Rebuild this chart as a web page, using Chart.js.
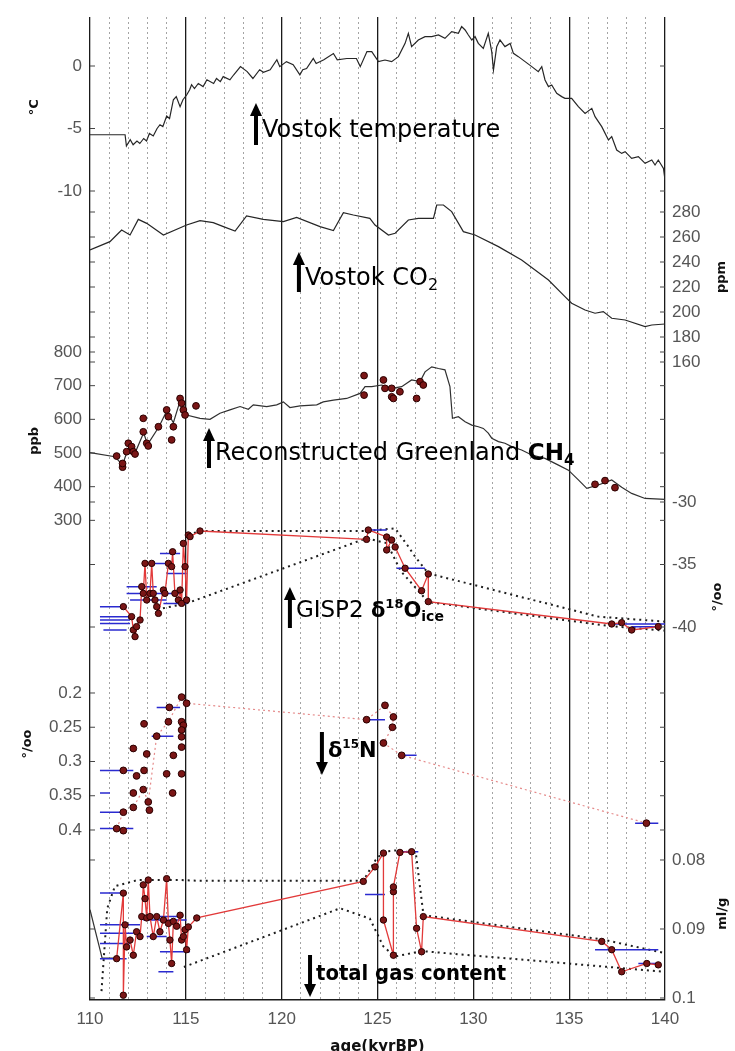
<!DOCTYPE html>
<html><head><meta charset="utf-8">
<script src="https://cdn.jsdelivr.net/npm/chart.js@4/dist/chart.umd.min.js"></script>
<style>html,body{margin:0;padding:0;background:#fff}canvas{display:block}</style>
</head><body>
<canvas id="c" width="735" height="1051"></canvas>
<script>
// ---------------- DATA ----------------
const ageTicks = [110,115,120,125,130,135,140];

const tempTicks = [0,-5,-10];
const co2Ticks  = [280,260,240,220,200,180,160];
const ch4Ticks  = [800,700,600,500,400,300];
const d18Ticks  = [-30,-35,-40];
const d15Ticks  = [0.2,0.25,0.3,0.35,0.4];
const gasTicks  = [0.08,0.09,0.1];

// Vostok temperature (deg C)
const tempAge = [110.0,111.83,111.9,112.1,112.25,112.45,112.6,112.8,112.95,113.1,113.3,113.5,113.65,113.8,114.0,114.15,114.35,114.5,114.7,114.85,115.05,115.2,115.3,115.45,115.65,115.9,116.1,116.45,116.6,116.8,116.95,117.3,117.5,117.85,118.2,118.5,118.85,119.05,119.4,119.75,119.9,120.25,120.6,120.95,121.1,121.3,121.65,121.8,122.2,122.7,122.9,123.4,123.9,124.1,124.45,124.7,125.05,125.39,125.74,126.09,126.44,126.61,126.78,127.13,127.48,127.83,128.18,128.52,128.87,129.22,129.39,129.57,129.74,129.92,130.09,130.26,130.52,130.78,130.96,131.05,131.22,131.39,131.65,131.92,132.09,132.35,132.7,133.05,133.39,133.57,133.74,133.92,134.09,134.35,134.61,134.78,135.13,135.48,135.83,136.18,136.35,136.7,137.05,137.22,137.48,137.74,137.92,138.26,138.61,138.96,139.31,139.48,139.65,139.92,140.0];
const tempVal = [-5.5,-5.5,-6.4,-5.9,-6.3,-6.0,-6.2,-5.8,-6.0,-5.4,-5.6,-5.0,-4.7,-4.85,-4.0,-4.2,-2.7,-2.45,-3.25,-2.7,-2.3,-1.9,-1.5,-1.8,-1.4,-1.65,-1.1,-1.4,-1.0,-1.25,-0.85,-1.1,-0.7,-0.05,-0.45,-1.0,-0.3,-0.5,-0.3,0.5,-0.05,0.35,0.1,-0.7,-0.3,-0.2,0.6,0.2,0.5,1.0,0.5,0.6,0.6,-0.05,1.15,1.15,0.35,0.48,0.35,0.75,1.81,2.61,1.55,2.08,2.35,2.35,2.48,2.21,2.75,2.61,3.15,2.88,2.48,2.08,2.35,1.81,1.41,2.61,1.15,-0.32,1.55,2.08,1.55,1.81,1.01,0.75,0.35,-0.05,-0.45,-0.05,-1.12,-1.65,-1.52,-2.19,-2.45,-2.59,-2.59,-3.25,-3.79,-3.39,-4.05,-4.85,-5.92,-5.65,-6.72,-6.99,-6.85,-7.39,-7.25,-7.79,-7.52,-7.92,-7.52,-8.19,-9.12];

// Vostok CO2 (ppm)
const co2Age = [110.0,111.04,111.39,111.65,112.09,112.52,112.96,113.83,115.04,115.74,116.43,116.96,117.57,118.17,119.04,120.09,120.78,122.0,122.7,123.22,123.74,124.6,124.87,125.57,125.92,126.61,127.13,127.92,128.09,128.44,128.87,129.48,130.09,131.31,132.52,133.92,134.78,135.13,135.83,136.35,136.78,137.22,137.92,138.96,139.31,140.0];
const co2Val = [249.6,256.3,261.6,265.6,261.6,274.1,270.9,261.6,269.6,273.1,271.5,268.3,264.8,276.8,274.1,272.3,275.7,268.3,265.1,279.5,277.6,274.9,269.6,261.6,263.0,273.6,274.9,274.9,285.6,285.6,280.3,264.3,261.6,252.3,241.6,225.6,212.3,207.0,201.6,199.0,200.3,195.0,193.6,188.3,189.6,190.4];

// Reconstructed Greenland CH4 (ppb)
const ch4Age = [110.0,111.3,111.7,112.0,112.35,112.8,113.0,113.6,114.0,114.35,114.7,115.04,115.74,116.26,116.78,117.3,117.83,118.26,118.52,119.22,119.74,120.09,120.43,120.96,121.83,122.17,122.7,123.39,124.09,124.35,124.7,125.22,125.74,126.26,126.78,127.22,127.48,127.83,128.18,128.52,128.78,128.91,129.22,129.57,129.92,130.26,130.52,130.78,130.96,131.31,131.65,132.0,132.52,133.05,133.74,134.44,134.96,135.48,135.92,136.52,137.22,137.74,138.26,138.96,140.0];
const ch4Val = [501,489,465,515,500,560,525,578,625,590,655,613,603,600,618,628,638,630,643,638,643,652,635,640,643,652,657,662,677,697,697,702,692,697,717,712,741,756,751,747,697,603,608,593,583,578,573,559,544,534,529,519,509,494,484,464,449,420,395,405,420,398,380,365,362];
const ch4DotAge = [111.39,111.7,111.7,111.91,112.0,112.17,112.26,112.35,112.78,112.78,112.96,113.04,113.57,114.0,114.09,114.26,114.35,114.7,114.78,114.87,114.96,115.53,124.3,124.3,125.31,125.39,125.74,125.74,125.83,126.17,127.04,127.22,127.39,136.35,136.87,137.39];
const ch4DotVal = [491,458,469,504,529,519,504,497,603,563,529,521,578,628,608,539,578,662,648,628,613,640,730,672,717,692,692,667,662,682,662,712,702,407,418,397];

// GISP2 d18O ice (permil)
const d18Age = [111.74,112.17,112.26,112.35,112.43,112.61,112.70,112.78,112.87,112.96,113.13,113.22,113.30,113.39,113.48,113.57,113.83,113.91,114.09,114.26,114.31,114.43,114.61,114.70,114.78,114.87,114.96,115.04,115.13,115.22,115.74,124.43,124.52,125.48,125.48,125.74,125.92,126.44,127.30,127.65,127.65,137.22,137.74,138.26,139.65];
const d18Val = [-38.37,-39.17,-40.24,-40.77,-39.97,-39.44,-36.77,-37.31,-34.91,-37.84,-37.31,-34.91,-37.31,-37.84,-38.37,-38.91,-37.04,-37.31,-34.91,-35.17,-33.98,-37.31,-37.84,-37.04,-38.11,-33.31,-35.17,-37.84,-32.64,-32.77,-32.32,-32.99,-32.24,-32.80,-33.84,-33.04,-33.60,-35.30,-37.10,-35.76,-37.97,-39.76,-39.65,-40.24,-39.97];
const d18ErrFrom = [110.52,110.52,110.52,110.52,110.70,111.91,111.91,112.09,113.13,113.65,112.78,113.83,114.00,124.35,126.00,137.22,138.26];
const d18ErrTo   = [111.91,112.09,112.09,112.09,111.91,113.48,113.65,114.00,114.70,114.70,114.00,115.04,115.04,125.48,127.48,140.00,139.65];
const d18ErrVal  = [-38.37,-39.17,-39.44,-39.71,-40.24,-36.77,-37.31,-37.84,-37.31,-34.11,-34.91,-38.11,-35.71,-32.24,-35.30,-39.76,-39.97];
const d18UpAge = [115.13,115.74,124.43,125.92,126.61,126.96,127.65,136.52,140.0];
const d18UpVal = [-32.64,-32.32,-32.32,-32.11,-33.57,-34.37,-35.71,-39.17,-39.57];
const d18LoAge = [113.5,115.04,124.43,125.5,126.2,127.65,137.0,140.0];
const d18LoVal = [-38.6,-38.11,-32.9,-33.3,-35.5,-38.0,-39.9,-40.3];

// d15N (permil)
const d15Age = [114.78,115.04,114.14,114.78,114.09,112.82,114.87,113.48,114.78,114.78,114.78,112.26,112.96,114.35,111.74,112.82,114.00,114.78,112.43,114.31,112.78,112.26,113.04,112.26,111.74,113.10,111.39,111.74,124.43,125.39,125.83,125.78,125.31,126.26,139.03];
const d15Val = [0.206,0.215,0.221,0.242,0.242,0.245,0.247,0.263,0.254,0.264,0.279,0.281,0.289,0.291,0.313,0.313,0.318,0.318,0.321,0.346,0.341,0.346,0.359,0.367,0.374,0.371,0.398,0.401,0.239,0.218,0.235,0.250,0.273,0.291,0.390];
const d15ErrFrom = [110.52,113.48,110.52,110.52,113.22,110.52,124.35,126.26,138.44];
const d15ErrTo   = [112.26,114.70,111.04,111.91,114.35,112.26,125.39,127.04,139.65];
const d15ErrVal  = [0.313,0.221,0.346,0.374,0.263,0.398,0.239,0.291,0.390];
const d15LinkAge = [111.39,111.74,112.26,112.78,113.04,113.48,114.09,114.78,115.04,124.43,125.39,125.83,125.78,125.31,126.26,139.03];
const d15LinkVal = [0.398,0.374,0.367,0.341,0.359,0.263,0.242,0.206,0.215,0.239,0.218,0.235,0.250,0.273,0.291,0.390];

// total gas content (ml/g)
const gasAge = [111.39,111.74,111.74,111.83,111.91,112.09,112.26,112.43,112.61,112.70,112.78,112.87,112.96,113.04,113.13,113.30,113.48,113.65,113.83,114.00,114.09,114.17,114.26,114.35,114.52,114.70,114.78,114.87,114.96,115.04,115.13,115.57,124.26,124.87,125.31,125.31,125.83,125.83,125.83,126.17,126.78,127.04,127.30,127.39,136.70,137.22,137.74,139.05,139.65];
const gasVal = [0.0943,0.0848,0.0996,0.0894,0.0926,0.0916,0.0938,0.0904,0.0911,0.0882,0.0836,0.0856,0.0884,0.0829,0.0882,0.0911,0.0882,0.0904,0.0887,0.0827,0.0892,0.0916,0.0950,0.0889,0.0896,0.0880,0.0916,0.0911,0.0901,0.0930,0.0897,0.0884,0.0831,0.0810,0.0790,0.0887,0.0938,0.0846,0.0839,0.0789,0.0788,0.0899,0.0933,0.0882,0.0918,0.0930,0.0962,0.0950,0.0952];
const gasErrFrom = [110.52,110.52,110.52,110.52,110.52,112.61,112.78,112.96,113.65,113.57,124.35,126.00,136.35,138.61];
const gasErrTo   = [111.74,112.61,112.26,112.09,111.91,114.87,115.04,114.00,115.22,114.35,125.39,127.13,139.65,139.65];
const gasErrVal  = [0.0848,0.0894,0.0906,0.0921,0.0943,0.0882,0.0887,0.0911,0.0933,0.0962,0.0850,0.0788,0.0930,0.0950];
const gasUpAge = [110.6,110.9,111.3,112.5,114.7,115.57,124.26,124.9,125.3,126.0,127.0,127.4,136.7,140.0];
const gasUpVal = [0.0990,0.0870,0.0838,0.0829,0.0829,0.0830,0.0830,0.0800,0.0788,0.0786,0.0790,0.0880,0.0915,0.0935];
const gasLoAge = [114.9,123.05,124.6,125.3,125.9,127.3,140.0];
const gasLoVal = [0.0955,0.0870,0.0885,0.0925,0.0940,0.0932,0.0962];
const gasBlackAge = [110.0,110.63,111.4];
const gasBlackVal = [0.0872,0.0942,0.0942];

// ---------------- BUILD ----------------
const pts = (xs, ys) => xs.map((x, i) => ({x, y: ys[i]}));
const bars = (f, t, v) => { const o = []; f.forEach((a, i) => { o.push({x: a, y: v[i]}, {x: t[i], y: v[i]}, {x: t[i], y: null}); }); return o; };

const RED = '#e23a3a', DOT = '#7a1616', DOTB = '#2a0000', BLUE = '#2a2ad0', ENV = '#1e1e1e';
const base = {pointRadius: 0, fill: false, tension: 0, spanGaps: false};
const mk = (o) => Object.assign({}, base, o);

const datasets = [
  mk({data: pts(ch4DotAge, ch4DotVal), yAxisID: 'yM', showLine: false, pointRadius: 3.4, pointBackgroundColor: DOT, pointBorderColor: DOTB, pointBorderWidth: 1, order: 0}),
  mk({data: pts(d15Age, d15Val), yAxisID: 'yN', showLine: false, pointRadius: 3.4, pointBackgroundColor: DOT, pointBorderColor: DOTB, pointBorderWidth: 1, order: 0}),
  mk({data: pts(d18Age, d18Val), yAxisID: 'yO', borderColor: RED, borderWidth: 1.3, pointRadius: 3.2, pointBackgroundColor: DOT, pointBorderColor: DOTB, pointBorderWidth: 1, order: 1}),
  mk({data: pts(gasAge, gasVal), yAxisID: 'yG', borderColor: RED, borderWidth: 1.3, pointRadius: 3.2, pointBackgroundColor: DOT, pointBorderColor: DOTB, pointBorderWidth: 1, order: 1}),
  mk({data: bars(d18ErrFrom, d18ErrTo, d18ErrVal), yAxisID: 'yO', borderColor: BLUE, borderWidth: 1.5, order: 2}),
  mk({data: bars(d15ErrFrom, d15ErrTo, d15ErrVal), yAxisID: 'yN', borderColor: BLUE, borderWidth: 1.5, order: 2}),
  mk({data: bars(gasErrFrom, gasErrTo, gasErrVal), yAxisID: 'yG', borderColor: BLUE, borderWidth: 1.5, order: 2}),
  mk({data: pts(d15LinkAge, d15LinkVal), yAxisID: 'yN', borderColor: '#e58a8a', borderWidth: 1.2, borderDash: [2,3], order: 3}),
  mk({data: pts(d18UpAge, d18UpVal), yAxisID: 'yO', borderColor: ENV, borderWidth: 2, borderDash: [2,4], order: 3}),
  mk({data: pts(d18LoAge, d18LoVal), yAxisID: 'yO', borderColor: ENV, borderWidth: 2, borderDash: [2,4], order: 3}),
  mk({data: pts(gasUpAge, gasUpVal), yAxisID: 'yG', borderColor: ENV, borderWidth: 2, borderDash: [2,4], order: 3}),
  mk({data: pts(gasLoAge, gasLoVal), yAxisID: 'yG', borderColor: ENV, borderWidth: 2, borderDash: [2,4], order: 3}),
  mk({data: pts(gasBlackAge, gasBlackVal), yAxisID: 'yG', borderColor: '#333', borderWidth: 1.2, order: 4}),
  mk({data: pts(tempAge, tempVal), yAxisID: 'yT', borderColor: '#262626', borderWidth: 1.2, order: 4}),
  mk({data: pts(co2Age, co2Val), yAxisID: 'yC', borderColor: '#262626', borderWidth: 1.2, order: 4}),
  mk({data: pts(ch4Age, ch4Val), yAxisID: 'yM', borderColor: '#303030', borderWidth: 1.2, order: 4}),
];

const panels = [
  {axis: 'yT', ticks: tempTicks, side: 'left'},
  {axis: 'yC', ticks: co2Ticks, side: 'right'},
  {axis: 'yM', ticks: ch4Ticks, side: 'left'},
  {axis: 'yO', ticks: d18Ticks, side: 'right'},
  {axis: 'yN', ticks: d15Ticks, side: 'left'},
  {axis: 'yG', ticks: gasTicks, side: 'right'},
];
const titles = [
  {axis: 'yT', val: -3.3, text: '°C', side: 'left', dx: 55},
  {axis: 'yC', val: 228, text: 'ppm', side: 'right', dx: 57},
  {axis: 'yM', val: 536, text: 'ppb', side: 'left', dx: 55},
  {axis: 'yO', val: -37.6, text: '°/oo', side: 'right', dx: 53},
  {axis: 'yN', val: 0.2745, text: '°/oo', side: 'left', dx: 62},
  {axis: 'yG', val: 0.0878, text: 'ml/g', side: 'right', dx: 58},
];
const F = '"DejaVu Sans", Verdana, sans-serif';
const notes = [
  {age: 118.66, axis: 'yT', val: -5.68, a: -34, b: 8, parts: [{t: 'Vostok temperature', f: '24px ' + F}]},
  {age: 120.9, axis: 'yC', val: 221.6, a: -33, b: 7, parts: [{t: 'Vostok CO', f: '24px ' + F}, {t: '2', f: '16px ' + F, dy: 5}]},
  {age: 116.21, axis: 'yM', val: 479.2, a: -32, b: 8, parts: [{t: 'Reconstructed Greenland ', f: '24px ' + F}, {t: 'CH', f: 'bold 23px ' + F}, {t: '4', f: 'bold 15px ' + F, dy: 5}]},
  {age: 120.43, axis: 'yO', val: -39.2, a: -30, b: 11, parts: [{t: 'GISP2 ', f: '23px ' + F}, {t: 'δ', f: 'bold 21px ' + F}, {t: '18', f: 'bold 13px ' + F, dy: -9}, {t: 'O', f: 'bold 21px ' + F}, {t: 'ice', f: 'bold 14px ' + F, dy: 4}]},
  {age: 122.1, axis: 'yN', val: 0.2934, a: 18, b: -25, parts: [{t: 'δ', f: 'bold 21px ' + F}, {t: '15', f: 'bold 12px ' + F, dy: -9}, {t: 'N', f: 'bold 21px ' + F}]},
  {age: 121.48, axis: 'yG', val: 0.09739, a: 17, b: -25, parts: [{t: 'total gas content', f: 'bold 22px ' + F, w: 190}]},
];

const overlay = {
  id: 'overlay',
  afterDraw(chart) {
    const ctx = chart.ctx, ca = chart.chartArea, sx = chart.scales.x;
    ctx.save();
    panels.forEach(p => {
      const s = chart.scales[p.axis];
      p.ticks.forEach(v => {
        const y = s.getPixelForValue(v);
        ctx.strokeStyle = '#444'; ctx.lineWidth = 1; ctx.setLineDash([]);
        ctx.beginPath();
        ctx.moveTo(ca.left, y); ctx.lineTo(ca.left + 5, y);
        ctx.moveTo(ca.right - 5, y); ctx.lineTo(ca.right, y);
        ctx.stroke();
        ctx.fillStyle = '#555';
        ctx.font = '17px "Liberation Sans", Arial, sans-serif';
        ctx.textBaseline = 'middle';
        if (p.side === 'left') { ctx.textAlign = 'right'; ctx.fillText(String(v), ca.left - 8, y); }
        else { ctx.textAlign = 'left'; ctx.fillText(String(v), ca.right + 7, y); }
      });
    });
    titles.forEach(t => {
      const y = chart.scales[t.axis].getPixelForValue(t.val);
      const x = t.side === 'left' ? ca.left - t.dx : ca.right + t.dx;
      ctx.save();
      ctx.translate(x, y); ctx.rotate(-Math.PI / 2);
      ctx.fillStyle = '#111'; ctx.font = 'bold 13px ' + F;
      ctx.textAlign = 'center'; ctx.textBaseline = 'middle';
      ctx.fillText(t.text, 0, 0);
      ctx.restore();
    });
    notes.forEach(n => {
      const x = sx.getPixelForValue(n.age);
      const yb = chart.scales[n.axis].getPixelForValue(n.val);
      const tip = yb + n.a, tail = yb + n.b;
      const dir = tip < tail ? 1 : -1;
      ctx.strokeStyle = '#000'; ctx.fillStyle = '#000'; ctx.setLineDash([]);
      ctx.lineWidth = 4;
      ctx.beginPath(); ctx.moveTo(x, tail); ctx.lineTo(x, tip + dir * 10); ctx.stroke();
      ctx.beginPath(); ctx.moveTo(x, tip); ctx.lineTo(x - 6, tip + dir * 13); ctx.lineTo(x + 6, tip + dir * 13); ctx.closePath(); ctx.fill();
      let cx = x + 6;
      ctx.textAlign = 'left'; ctx.textBaseline = 'alphabetic';
      n.parts.forEach(pt => {
        ctx.font = pt.f;
        let w = ctx.measureText(pt.t).width;
        if (pt.w) { ctx.fillText(pt.t, cx, yb + (pt.dy || 0), pt.w); w = Math.min(w, pt.w); }
        else ctx.fillText(pt.t, cx, yb + (pt.dy || 0));
        cx += w;
      });
    });
    ctx.restore();
  }
};

const isMajor = c => c.tick && Math.round(c.tick.value) % 5 === 0;

new Chart(document.getElementById('c'), {
  type: 'line',
  data: {datasets},
  options: {
    responsive: false,
    animation: false,
    layout: {padding: {left: 90, right: 70, top: 17, bottom: 0}},
    plugins: {legend: {display: false}, tooltip: {enabled: false}},
    scales: {
      x: {
        type: 'linear', position: 'bottom', min: 110, max: 140,
        afterFit: s => { s.height = 51; },
        ticks: {stepSize: 1, autoSkip: false, maxRotation: 0, padding: 9, color: '#555',
                font: {family: '"Liberation Sans", Arial, sans-serif', size: 17},
                callback: v => (Math.round(v) % 5 === 0 ? String(v) : '')},
        grid: {drawTicks: false,
               color: c => isMajor(c) ? '#1a1a1a' : '#a4a4a4',
               lineWidth: c => isMajor(c) ? 1.3 : 1},
        border: {display: true, color: '#1a1a1a', width: 1.5,
                 dash: c => (c.tick && !isMajor(c)) ? [2, 3] : []},
        title: {display: true, text: 'age(kyrBP)', color: '#111',
                font: {family: '"DejaVu Sans", sans-serif', size: 15, weight: 'bold'}, padding: {top: 0, bottom: -5}}
      },
      yT: {type: 'linear', display: false, min: -74.72, max: 3.92},
      yC: {type: 'linear', display: false, min: -350.4, max: 436},
      yM: {type: 'linear', display: false, min: -1124.56, max: 1794.95},
      yO: {type: 'linear', display: false, min: -69.84, max: 8.8},
      yN: {type: 'linear', display: false, reverse: true, min: -0.7869, max: 0.6482},
      yG: {type: 'linear', display: false, reverse: true, min: -0.04217, max: 0.10029}
    }
  },
  plugins: [overlay]
});
</script>
</body></html>
